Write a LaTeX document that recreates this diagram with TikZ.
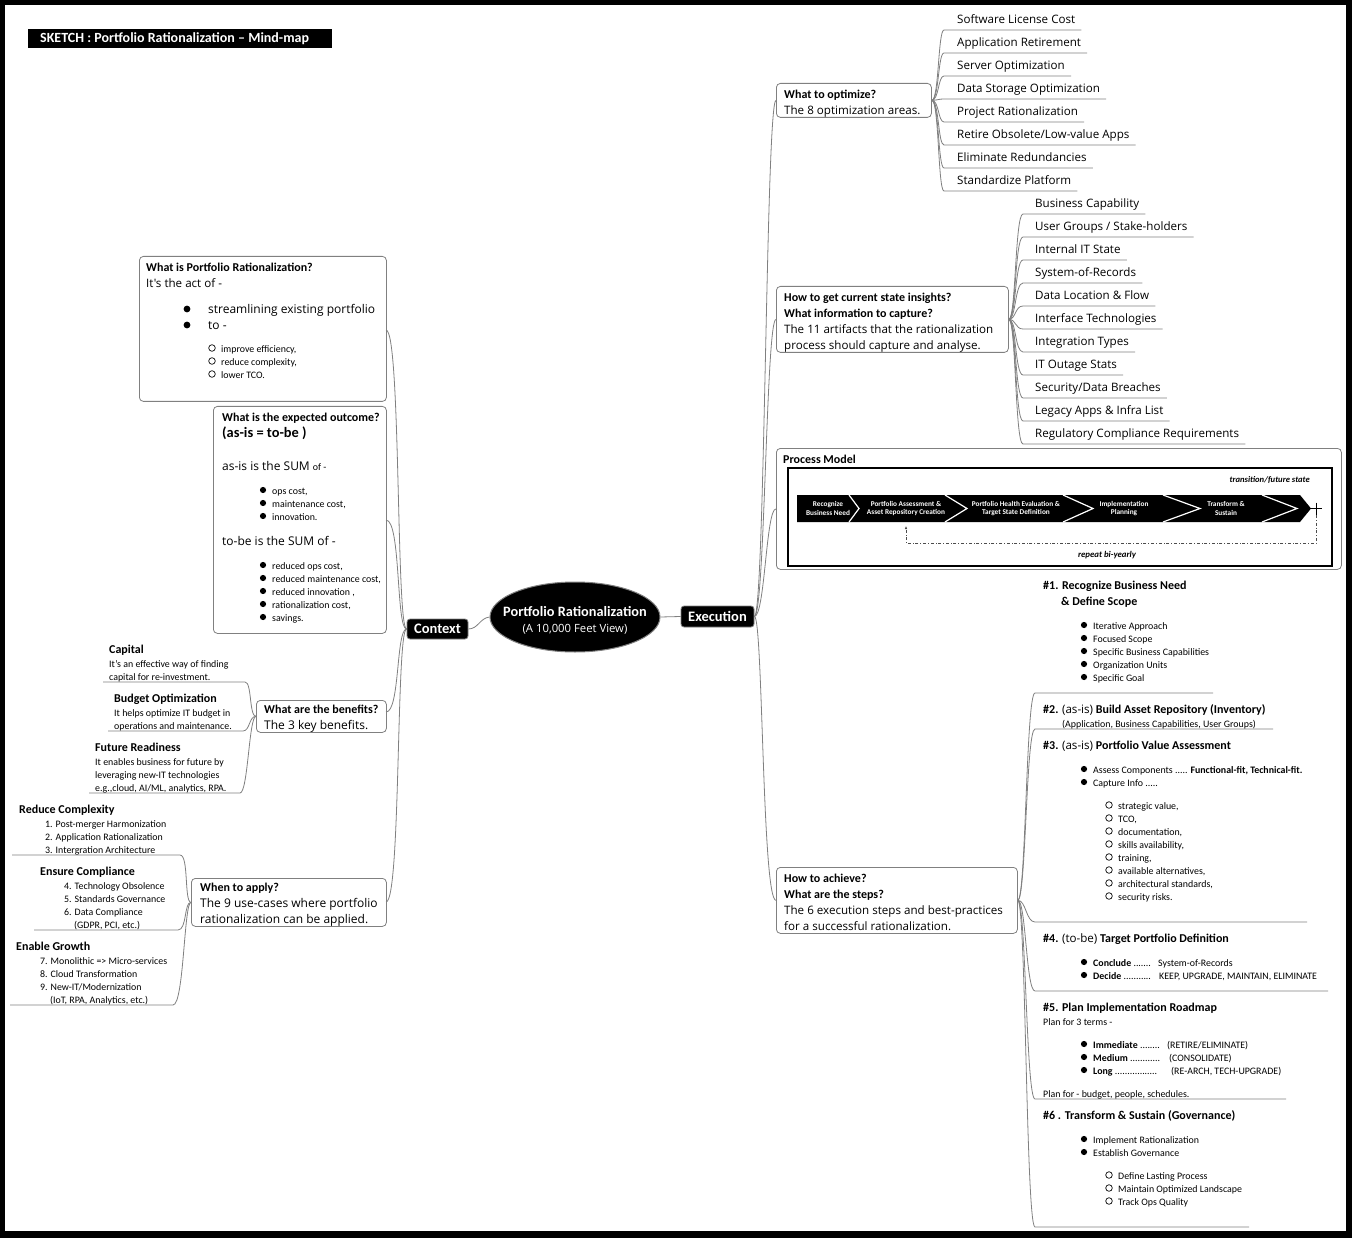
\documentclass[tikz,border=0pt]{standalone}
\usepackage{fontspec}
\setmainfont{Carlito}
\newfontfamily\seg{Open Sans}
\usetikzlibrary{shapes.geometric,arrows.meta}
\definecolor{cgray}{RGB}{128,128,128}
\begin{document}
\begin{tikzpicture}[x=1pt,y=-1pt,
 conn/.style={draw=cgray,line width=0.8pt},
 box/.style={draw=cgray,line width=0.8pt,rounded corners=4pt,anchor=north west,inner sep=0pt},
 tx/.style={anchor=west,inner sep=0pt,text height=1.6ex,text depth=0.4ex,yshift=-1.5pt},
 hd/.style={tx,font=\fontsize{12}{14}\selectfont\bfseries},
 st/.style={tx,font=\fontsize{12}{14}\selectfont\bfseries},
 sg/.style={tx,font=\seg\fontsize{11.6}{13}\selectfont},
 sgb/.style={tx,font=\seg\fontsize{12}{14}\selectfont},
 sm/.style={tx,font=\fontsize{9.9}{11}\selectfont},
 lf/.style={sg,inner xsep=6pt},
 pw/.style={text=white,font=\fontsize{7.3}{8.2}\selectfont\bfseries,align=center,inner sep=0pt},
 blk/.style={fill=black,draw=cgray,line width=0.8pt,rounded corners=3pt,text=white,font=\fontsize{14.5}{16}\selectfont\bfseries,inner sep=0pt},
 bul/.style={fill=black},
 ring/.style={draw=black,line width=0.7pt}
]
\useasboundingbox (0,0) rectangle (1352,1238);
\fill[black] (0,0) rectangle (1352,1238);
\fill[white] (5,5) rectangle (1346,1231);

% title
\fill[black] (28,29) rectangle (332,48);
\node[tx,text=white,font=\fontsize{14}{16}\selectfont\bfseries] (title) at (40,38.5) {SKETCH : Portfolio Rationalization -- Mind-map};

% centre
\node[ellipse,fill=black,draw=cgray,line width=1pt,minimum width=170pt,minimum height=70pt] (root) at (575,617) {};
\node[text=white,font=\fontsize{14.3}{16}\selectfont\bfseries,inner sep=0pt] (rt1) at (575,612) {Portfolio Rationalization};
\node[text=white,font=\seg\fontsize{11.3}{13}\selectfont,inner sep=0pt] (rt2) at (575,629) {(A 10,000 Feet View)};
\node[blk,minimum width=61pt,minimum height=20pt] (ctx) at (437.5,629) {Context};
\node[blk,minimum width=73pt,minimum height=21pt] (exe) at (717.5,616.5) {Execution};
\draw[conn] (root.west) .. controls (480,618) and (478,629) .. (ctx.east);
\draw[conn] (root.east) -- (exe.west);

% ---------- left boxes
\node[box,minimum width=247pt,minimum height=145pt] (wpr) at (139,256) {};
\node[box,minimum width=173pt,minimum height=227pt] (exo) at (213,406) {};
\node[box,minimum width=130pt,minimum height=32pt] (ben) at (256,700) {};
\node[box,minimum width=195pt,minimum height=48pt] (wta) at (191,878) {};
\coordinate (a1) at (386,330);
\coordinate (a2) at (386,520);
\coordinate (a3) at (386,712);
\coordinate (a4) at (386,902);
\draw[conn] (ctx.west) .. controls (396,629) and (401,330) .. (a1);
\draw[conn] (ctx.west) .. controls (396,629) and (401,520) .. (a2);
\draw[conn] (ctx.west) .. controls (396,629) and (400,712) .. (a3);
\draw[conn] (ctx.west) .. controls (396,629) and (401,902) .. (a4);

% box 1
\node[hd] (w1) at (146,267) {What is Portfolio Rationalization?};
\node[sg] (w2) at (146,283) {It's the act of -};
\fill[bul] (187,309) circle (3.4pt);
\fill[bul] (187,325) circle (3.4pt);
\node[sgb] (w3) at (208,309) {streamlining existing portfolio};
\node[sgb] (w4) at (208,325) {to -};
\foreach \t [count=\i] in {{improve efficiency,},{reduce complexity,},{lower TCO.}} {
  \draw[ring] (212,335+13*\i) circle (3.3pt);
  \node[sm] (wc\i) at (221,335+13*\i) {\t};
}

% box 2
\node[hd] (e1) at (222,417) {What is the expected outcome?};
\node[tx,font=\fontsize{14.4}{16}\selectfont\bfseries] (e2) at (222,433) {(as-is = to-be )};
\node[sgb] (e3) at (222,466) {as-is is the SUM {\normalfont\fontsize{9.9}{11}\selectfont of -}};
\foreach \t [count=\i] in {{ops cost,},{maintenance cost,},{innovation.}} {
  \fill[bul] (263,477+13*\i) circle (3.1pt);
  \node[sm] (ea\i) at (272,477+13*\i) {\t};
}
\node[sgb] (e4) at (222,541) {to-be is the SUM of -};
\foreach \t [count=\i] in {{reduced ops cost,},{reduced maintenance cost,},{reduced innovation ,},{rationalization cost,},{savings.}} {
  \fill[bul] (263,552+13*\i) circle (3.1pt);
  \node[sm] (eb\i) at (272,552+13*\i) {\t};
}

% benefits
\node[hd] (b1) at (264,709) {What are the benefits?};
\node[sgb] (b2) at (264,725) {The 3 key benefits.};
\node[hd] (cap) at (109,649) {Capital};
\node[sm] (cap1) at (109,663) {It's an effective way of finding};
\node[sm] (cap2) at (109,676) {capital for re-investment.};
\node[hd] (bud) at (114,698) {Budget Optimization};
\node[sm] (bud1) at (114,712) {It helps optimize IT budget in};
\node[sm] (bud2) at (114,725) {operations and maintenance.};
\node[hd] (fut) at (95,747) {Future Readiness};
\node[sm] (fut1) at (95,761) {It enables business for future by};
\node[sm] (fut2) at (95,774) {leveraging new-IT technologies};
\node[sm] (fut3) at (95,787) {e.g.,cloud, AI/ML, analytics, RPA.};
\draw[conn] (ben.west) .. controls (249,716) and (252,682) .. (245,682) -- (103,682);
\draw[conn] (ben.west) .. controls (249,716) and (250,731) .. (243,731) -- (108,731);
\draw[conn] (ben.west) .. controls (249,716) and (248,793) .. (240,793) -- (89,793);

% when to apply
\node[hd] (h1) at (200,887) {When to apply?};
\node[sgb] (h2) at (200,903) {The 9 use-cases where portfolio};
\node[sgb] (h3) at (200,919) {rationalization can be applied.};
\node[hd] (rc) at (19,809) {Reduce Complexity};
\node[sm] (rc1) at (45,823) {1. Post-merger Harmonization};
\node[sm] (rc2) at (45,836) {2. Application Rationalization};
\node[sm] (rc3) at (45,849) {3. Intergration Architecture};
\node[hd] (ec) at (40,871) {Ensure Compliance};
\node[sm] (ec1) at (64,885) {4. Technology Obsolence};
\node[sm] (ec2) at (64,898) {5. Standards Governance};
\node[sm] (ec3) at (64,911) {6. Data Compliance};
\node[sm] (ec4) at (74,924) {(GDPR, PCI, etc.)};
\node[hd] (eg) at (16,946) {Enable Growth};
\node[sm] (eg1) at (40,960) {7. Monolithic => Micro-services};
\node[sm] (eg2) at (40,973) {8. Cloud Transformation};
\node[sm] (eg3) at (40,986) {9. New-IT/Modernization};
\node[sm] (eg4) at (50,999) {(IoT, RPA, Analytics, etc.)};
\draw[conn] (wta.west) .. controls (184,902) and (189,855) .. (180,855) -- (12,855);
\draw[conn] (wta.west) .. controls (184,902) and (187,930) .. (178,930) -- (34,930);
\draw[conn] (wta.west) .. controls (184,902) and (184,1005) .. (173,1005) -- (10,1005);

% ---------- right side
\node[box,minimum width=155pt,minimum height=34pt] (wto) at (776,83) {};
\node[box,minimum width=232pt,minimum height=66pt] (hgc) at (776,286) {};
\node[box,minimum width=565pt,minimum height=121pt] (pm) at (776,448) {};
\node[box,minimum width=241pt,minimum height=66pt] (hta) at (776,867) {};
\draw[conn] (exe.east) .. controls (765,616) and (766,100) .. (wto.west);
\draw[conn] (exe.east) .. controls (765,616) and (766,319) .. (hgc.west);
\draw[conn] (exe.east) .. controls (765,616) and (766,508.5) .. (pm.west);
\draw[conn] (exe.east) .. controls (763,616) and (762,900) .. (hta.west);

% what to optimize
\node[hd] (o0a) at (784,94) {What to optimize?};
\node[sg] (o0b) at (784,110) {The 8 optimization areas.};
\foreach \t [count=\i] in {Software License Cost,Application Retirement,Server Optimization,Data Storage Optimization,Project Rationalization,Retire Obsolete/Low-value Apps,Eliminate Redundancies,Standardize Platform} {
  \node[lf] (opt\i) at (951,-4+23*\i) {\t};
  \coordinate (ol\i) at (944,7+23*\i);
  \draw[conn] (wto.east) .. controls (939,100) and (938,7+23*\i) .. (ol\i) -- (opt\i.east |- ol\i);
}

% how to get insights
\node[hd] (g1) at (784,297) {How to get current state insights?};
\node[hd] (g2) at (784,313) {What information to capture?};
\node[sg] (g3) at (784,329) {The 11 artifacts that the rationalization};
\node[sg] (g4) at (784,345) {process should capture and analyse.};
\foreach \t [count=\i] in {Business Capability,User Groups / Stake-holders,Internal IT State,System-of-Records,Data Location \& Flow,Interface Technologies,Integration Types,IT Outage Stats,Security/Data Breaches,Legacy Apps \& Infra List,Regulatory Compliance Requirements} {
  \node[lf] (art\i) at (1029,180+23*\i) {\t};
  \coordinate (al\i) at (1023,191+23*\i);
  \draw[conn] (hgc.east) .. controls (1016,319) and (1015,191+23*\i) .. (al\i) -- (art\i.east |- al\i);
}

% process model
\node[hd] (pmt) at (783,459) {Process Model};
\node[draw=black,line width=1.6pt,anchor=north west,minimum width=544pt,minimum height=98pt,inner sep=0pt] (pmin) at (787,467) {};
\node[font=\fontsize{8.6}{10}\selectfont\bfseries\itshape,anchor=east,inner sep=0pt] (tfs) at (1310,480) {transition/future state};
\fill[black] (797,495) -- (1300,495) -- (1311,508.5) -- (1300,522) -- (797,522) -- cycle;
\foreach \a/\b in {849/859,945/967,1063/1093,1163/1200,1262/1297} {
  \draw[white,line width=1.2pt] (\a,495) -- (\b,508.5) -- (\a,522);
}
\node[pw] (p1) at (828,508.5) {Recognize\\Business Need};
\node[pw] (p2) at (906,508.5) {Portfolio Assessment \&\\Asset Repository Creation};
\node[pw] (p3) at (1016,508.5) {Portfolio Health Evaluation \&\\Target State Definition};
\node[pw] (p4) at (1124,508.5) {Implementation\\Planning};
\node[pw] (p5) at (1226,508.5) {Transform \&\\Sustain};
\coordinate (plus) at (1316,508.5);
\draw[line width=1pt] (1310,508.5) -- (1322,508.5) (plus) ++(0,-6) -- ++(0,12);
\coordinate (rp1) at (1316,515);
\coordinate (rp2) at (906,526);
\draw[draw=black!70,line width=0.6pt,dash dot,-{Latex[length=3pt,width=2.5pt]}] (rp1) -- (1316,543) -- (906,543) -- (rp2);
\node[font=\fontsize{8.8}{10}\selectfont\bfseries\itshape,inner sep=0pt] (rby) at (1107,555) {repeat bi-yearly};

% how to achieve
\node[hd] (c1) at (784,878) {How to achieve?};
\node[hd] (c2) at (784,894) {What are the steps?};
\node[sg] (c3) at (784,910) {The 6 execution steps and best-practices};
\node[sg] (c4) at (784,926) {for a successful rationalization.};
\foreach \yy/\xe in {693/1213,729/1273,922/1307,991/1328,1099/1286,1227/1249} {
  \draw[conn] (hta.east) .. controls (1026,900) and (1026,\yy) .. (1035,\yy) -- (\xe,\yy);
}

% step 1
\node[st] (s1a) at (1043,585) {\#1. Recognize Business Need};
\node[st] (s1b) at (1061,601) {\& Define Scope};
\foreach \t [count=\i] in {Iterative Approach,Focused Scope,Specific Business Capabilities,Organization Units,Specific Goal} {
  \fill[bul] (1084,612+13*\i) circle (3.1pt);
  \node[sm] (s1i\i) at (1093,612+13*\i) {\t};
}
% step 2
\node[st] (s2a) at (1043,709) {\#2. {\seg\mdseries\fontsize{11.6}{13}\selectfont (as-is)} Build Asset Repository (Inventory)};
\node[sm] (s2b) at (1062,723) {(Application, Business Capabilities, User Groups)};
% step 3
\node[st] (s3a) at (1043,745) {\#3. {\seg\mdseries\fontsize{11.6}{13}\selectfont (as-is)} Portfolio Value Assessment};
\fill[bul] (1084,769) circle (3.1pt);
\node[sm] (s3b) at (1093,769) {Assess Components ..... \textbf{Functional-fit, Technical-fit.}};
\fill[bul] (1084,782) circle (3.1pt);
\node[sm] (s3c) at (1093,782) {Capture Info .....};
\foreach \t [count=\i] in {{strategic value,},{TCO,},{documentation,},{skills availability,},{training,},{available alternatives,},{architectural standards,},{security risks.}} {
  \draw[ring] (1109,792+13*\i) circle (3.3pt);
  \node[sm] (s3r\i) at (1118,792+13*\i) {\t};
}
% step 4
\node[st] (s4a) at (1043,938) {\#4. {\seg\mdseries\fontsize{11.6}{13}\selectfont (to-be)} Target Portfolio Definition};
\fill[bul] (1084,962) circle (3.1pt);
\node[sm] (s4b) at (1093,962) {\textbf{Conclude} .......};
\node[sm] (s4c) at (1158,962) {System-of-Records};
\fill[bul] (1084,975) circle (3.1pt);
\node[sm] (s4d) at (1093,975) {\textbf{Decide} ...........};
\node[sm] (s4e) at (1159,975) {KEEP, UPGRADE, MAINTAIN, ELIMINATE};
% step 5
\node[st] (s5a) at (1043,1007) {\#5. Plan Implementation Roadmap};
\node[sm] (s5b) at (1043,1021) {Plan for 3 terms -};
\fill[bul] (1084,1044) circle (3.1pt);
\node[sm] (s5c) at (1093,1044) {\textbf{Immediate} ........};
\node[sm] (s5d) at (1167,1044) {(RETIRE/ELIMINATE)};
\fill[bul] (1084,1057) circle (3.1pt);
\node[sm] (s5e) at (1093,1057) {\textbf{Medium} ............};
\node[sm] (s5f) at (1169,1057) {(CONSOLIDATE)};
\fill[bul] (1084,1070) circle (3.1pt);
\node[sm] (s5g) at (1093,1070) {\textbf{Long} .................};
\node[sm] (s5h) at (1171,1070) {(RE-ARCH, TECH-UPGRADE)};
\node[sm] (s5i) at (1043,1093) {Plan for - budget, people, schedules.};
% step 6
\node[st] (s6a) at (1043,1115) {\#6 . Transform \& Sustain (Governance)};
\fill[bul] (1084,1139) circle (3.1pt);
\node[sm] (s6b) at (1093,1139) {Implement Rationalization};
\fill[bul] (1084,1152) circle (3.1pt);
\node[sm] (s6c) at (1093,1152) {Establish Governance};
\foreach \t [count=\i] in {Define Lasting Process,Maintain Optimized Landscape,Track Ops Quality} {
  \draw[ring] (1109,1162+13*\i) circle (3.3pt);
  \node[sm] (s6r\i) at (1118,1162+13*\i) {\t};
}
\end{tikzpicture}
\end{document}
